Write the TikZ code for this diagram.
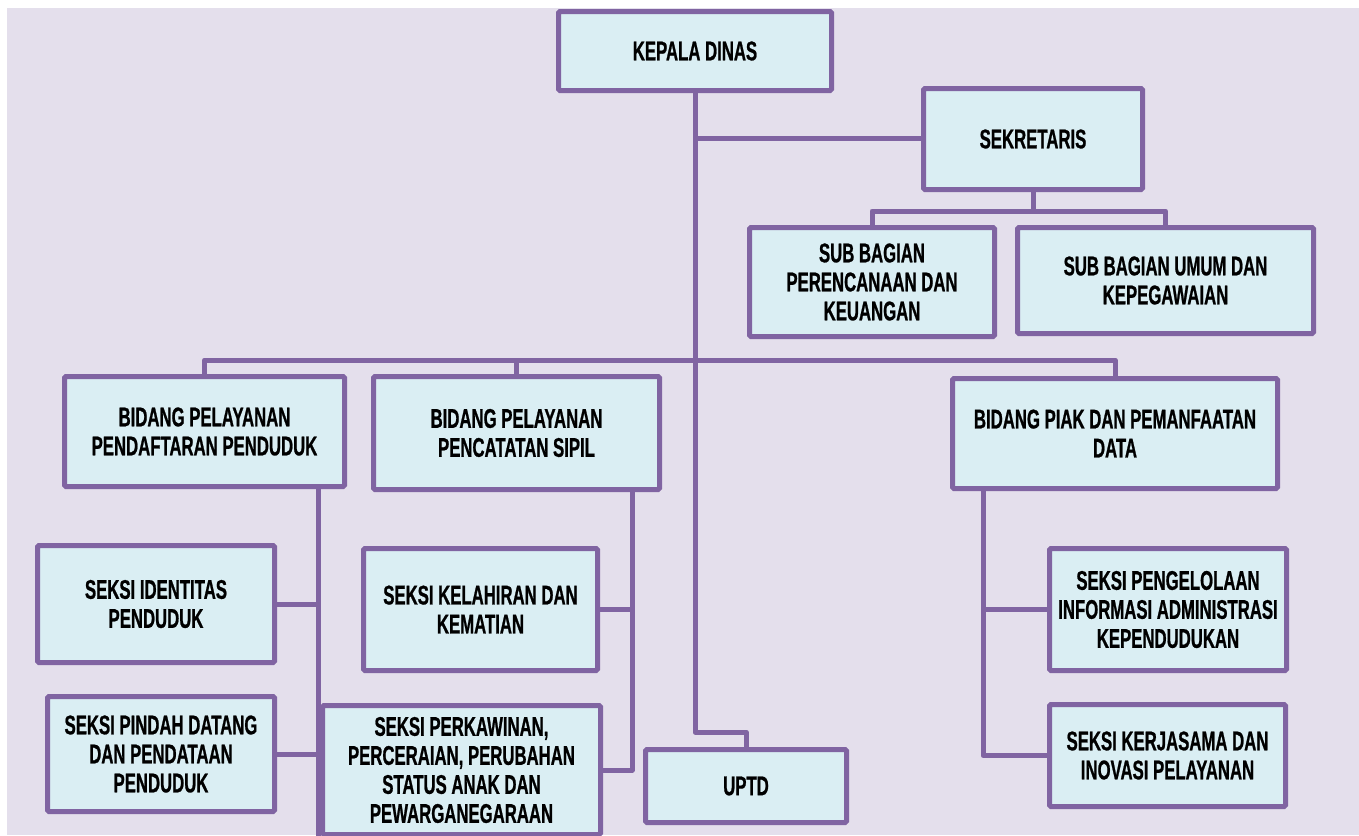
\documentclass[tikz,border=0pt]{standalone}
\usepackage{fontspec}
\newfontfamily\agency[FakeStretch=0.62, BoldFeatures={FakeBold=0.8}]{Liberation Sans}
\definecolor{boxborder}{HTML}{8064A2}
\definecolor{boxfill}{HTML}{DAEEF3}
\definecolor{pagebg}{HTML}{E4DFEC}
\tikzset{
  orgbox/.style={draw=boxborder, fill=boxfill, line width=5pt, rounded corners=1.5pt,
    inner sep=0pt, align=center, text=black,
    font=\agency\bfseries\fontsize{27}{29}\selectfont},
  link/.style={draw=boxborder, line width=5pt, line join=round}
}
\begin{document}
\begin{tikzpicture}[x=1pt,y=-1pt]
\useasboundingbox (0,0) rectangle (1359,835);
\clip (0,0) rectangle (1359,835);
\fill[pagebg] (7,8) rectangle (1359,835);

% boxes
\node[orgbox, minimum width=273pt, minimum height=79pt] (kepala) at (695,51) {KEPALA DINAS};
\node[orgbox, minimum width=219pt, minimum height=101pt] (sek) at (1033,139) {SEKRETARIS};
\node[orgbox, minimum width=245pt, minimum height=109pt] (sb1) at (872,282) {SUB BAGIAN\\PERENCANAAN DAN\\KEUANGAN};
\node[orgbox, minimum width=296pt, minimum height=106pt] (sb2) at (1165.5,280.5) {SUB BAGIAN UMUM DAN\\KEPEGAWAIAN};
\node[orgbox, minimum width=280pt, minimum height=110pt] (b1) at (204.5,431.5) {BIDANG PELAYANAN\\PENDAFTARAN PENDUDUK};
\node[orgbox, minimum width=286pt, minimum height=113pt] (b2) at (516.5,433) {BIDANG PELAYANAN\\PENCATATAN SIPIL};
\node[orgbox, minimum width=325pt, minimum height=110pt] (b3) at (1115,433.5) {BIDANG PIAK DAN PEMANFAATAN\\DATA};
\node[orgbox, minimum width=237pt, minimum height=117pt] (si) at (156,604) {SEKSI IDENTITAS\\PENDUDUK};
\node[orgbox, minimum width=227pt, minimum height=115pt] (sp) at (161,754) {SEKSI PINDAH DATANG\\DAN PENDATAAN\\PENDUDUK};
\node[orgbox, minimum width=234pt, minimum height=122pt] (sk) at (480.5,609.5) {SEKSI KELAHIRAN DAN\\KEMATIAN};
\node[orgbox, minimum width=278pt, minimum height=129pt] (spk) at (461.5,770) {SEKSI PERKAWINAN,\\PERCERAIAN, PERUBAHAN\\STATUS ANAK DAN\\PEWARGANEGARAAN};
\node[orgbox, minimum width=201pt, minimum height=73pt] (uptd) at (746,786) {UPTD};
\node[orgbox, minimum width=237pt, minimum height=122pt] (pg) at (1168,609.5) {SEKSI PENGELOLAAN\\INFORMASI ADMINISTRASI\\KEPENDUDUKAN};
\node[orgbox, minimum width=236pt, minimum height=102pt] (kj) at (1167.5,755.5) {SEKSI KERJASAMA DAN\\INOVASI PELAYANAN};

% junction coordinates
\coordinate (uj) at (695,732);
\coordinate (sekj) at (695,138);
\coordinate (sbj) at (1033,211);
\coordinate (mj) at (695,360);
\coordinate (b1s) at (318,845);
\coordinate (b2e) at (632,770);
\coordinate (b3x) at (983,500);

% connectors
\draw[link] (kepala) -- (uj) -| (uptd);
\draw[link] (sekj) -- (sekj -| sek.west);
\draw[link] (sek) -- (sbj);
\draw[link] (sb1) |- (sbj) -| (sb2);
\draw[link] (b1) |- (mj) -| (b3);
\draw[link] (b2) |- (mj);
\draw[link] (b1.south -| b1s) -- (b1s);
\draw[link] (si.east) -- (si.east -| b1s);
\draw[link] (sp.east) -- (sp.east -| b1s);
\draw[link] (b2.south -| b2e) -- (b2e) -- (b2e -| spk.east);
\draw[link] (sk.east) -- (sk.east -| b2e);
\draw[link] (b3.south -| b3x) |- (kj.west);
\draw[link] (pg.west) -- (pg.west -| b3x);
\end{tikzpicture}
\end{document}
